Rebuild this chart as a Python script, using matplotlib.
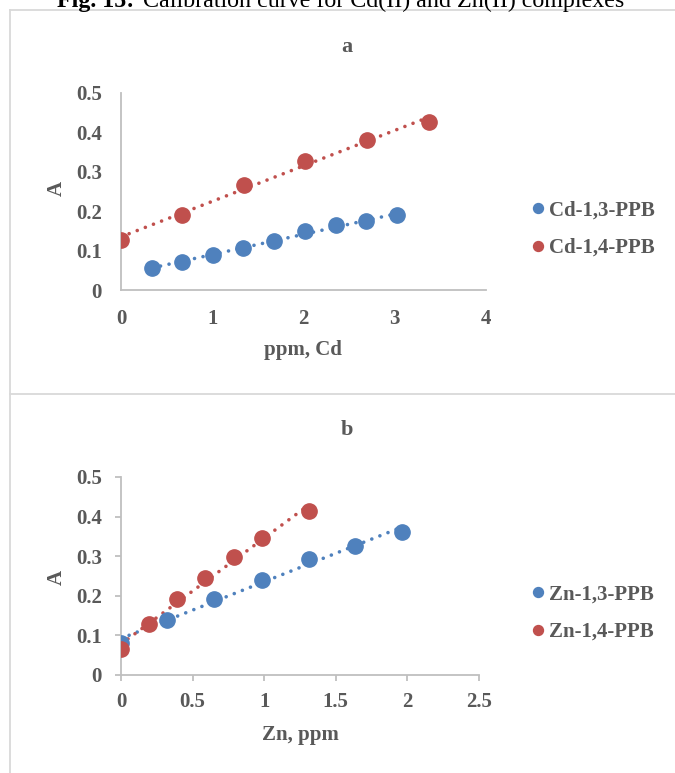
import matplotlib
matplotlib.use("Agg")
import matplotlib.pyplot as plt
import numpy as np
from matplotlib.lines import Line2D

# ---- data ----
cd13_x = [0.34, 0.67, 1.01, 1.34, 1.68, 2.02, 2.36, 2.69, 3.03]
cd13_y = [0.056, 0.070, 0.090, 0.107, 0.125, 0.149, 0.164, 0.174, 0.190]
cd14_x = [0.0, 0.67, 1.35, 2.02, 2.70, 3.37]
cd14_y = [0.128, 0.190, 0.267, 0.328, 0.380, 0.427]

zn13_x = [0.0, 0.32, 0.65, 0.985, 1.31, 1.635, 1.96]
zn13_y = [0.080, 0.139, 0.191, 0.241, 0.292, 0.326, 0.360]
zn14_x = [0.0, 0.196, 0.39, 0.587, 0.787, 0.985, 1.31]
zn14_y = [0.065, 0.128, 0.191, 0.244, 0.297, 0.347, 0.414]

top_xticks = [0, 1, 2, 3, 4]
top_xlabels = ["0", "1", "2", "3", "4"]
bot_xticks = [0, 0.5, 1, 1.5, 2, 2.5]
bot_xlabels = ["0", "0.5", "1", "1.5", "2", "2.5"]
yticks = [0, 0.1, 0.2, 0.3, 0.4, 0.5]
ylabels = ["0", "0.1", "0.2", "0.3", "0.4", "0.5"]

BLUE = "#4F81BD"
RED = "#C0504D"
GRAY = "#595959"
AXC = "#BFBFBF"
FS = 15

W, H = 675, 773
plt.rcParams["font.family"] = ["Liberation Serif", "DejaVu Serif"]
fig = plt.figure(figsize=(W / 100, H / 100), dpi=100)


def fx(px):
    return px / W


def fy(py):
    return 1 - py / H


# panel borders
for (x0, y0, x1, y1) in [(10, 10, 675, 10), (10, 10, 10, 773), (10, 394, 675, 394)]:
    fig.add_artist(Line2D([fx(x0), fx(x1)], [fy(y0), fy(y1)], color="#D9D9D9", lw=1.3))

# figure caption (cut off at top, as in the reference)
fig.text(fx(134), fy(7), "Fig. 15:", fontsize=17.3, fontweight="bold", color="black",
         ha="right", va="baseline")
fig.text(fx(143), fy(7), "Calibration curve for Cd(II) and Zn(II) complexes", fontsize=17.3,
         color="black", ha="left", va="baseline")


def make_panel(rect, xt, xl, xmax, series, ticks, title, title_y, xlabel, xlabel_pos,
               a_pos, leg_y, xtot):
    ax = fig.add_axes(rect)
    for (x, y, c, lab) in series:
        x = np.array(x)
        y = np.array(y)
        m, b = np.polyfit(x, y, 1)
        xx = np.array([x.min(), x.max()])
        ax.plot(xx, m * xx + b, color=c, lw=2.6, linestyle=(0, (0.01, 2.4)),
                dash_capstyle="round", zorder=2)
        ax.plot(x, y, "o", color=c, ms=11, mec=c, zorder=3, label=lab)
    ax.set_xlim(0, xmax)
    ax.set_ylim(0, 0.5)
    ax.set_xticks(xt)
    ax.set_xticklabels(xl)
    ax.set_yticks(yticks)
    ax.set_yticklabels(ylabels)
    for s in ["top", "right"]:
        ax.spines[s].set_visible(False)
    for s in ["left", "bottom"]:
        ax.spines[s].set_color(AXC)
        ax.spines[s].set_linewidth(1.3)
    tl = 4.5 if ticks else 0
    ax.tick_params(axis="both", length=tl, width=1.3, color=AXC, labelsize=FS,
                   labelcolor=GRAY)
    ax.tick_params(axis="y", pad=13.7 - tl)
    ax.tick_params(axis="x", pad=xtot - tl)
    for lab in ax.get_xticklabels() + ax.get_yticklabels():
        lab.set_fontweight("bold")
    ax.patch.set_alpha(0)
    fig.text(fx(347), fy(title_y), title, fontsize=16, fontweight="bold", color=GRAY,
             ha="center", va="center")
    fig.text(fx(xlabel_pos[0]), fy(xlabel_pos[1]), xlabel, fontsize=FS, fontweight="bold",
             color=GRAY, ha="center", va="center")
    fig.text(fx(a_pos[0]), fy(a_pos[1]), "A", fontsize=FS, fontweight="bold",
             color=GRAY, ha="center", va="center", rotation=90)
    leg = ax.legend(loc="center left", bbox_to_anchor=(fx(509), fy(leg_y)),
                    bbox_transform=fig.transFigure, frameon=False, handletextpad=0.0,
                    handlelength=1.0, markerscale=0.65, labelspacing=0.85,
                    prop={"weight": "bold", "size": FS})
    for t in leg.get_texts():
        t.set_color(GRAY)
    return ax


make_panel([fx(121), fy(290), fx(486) - fx(121), fy(93) - fy(290)],
           top_xticks, top_xlabels, 4,
           [(cd13_x, cd13_y, BLUE, "Cd-1,3-PPB"), (cd14_x, cd14_y, RED, "Cd-1,4-PPB")],
           False, "a", 47, "ppm, Cd", (303, 350), (57, 188), 229, 14)

make_panel([fx(121), fy(675), fx(479) - fx(121), fy(477) - fy(675)],
           bot_xticks, bot_xlabels, 2.5,
           [(zn13_x, zn13_y, BLUE, "Zn-1,3-PPB"), (zn14_x, zn14_y, RED, "Zn-1,4-PPB")],
           True, "b", 430, "Zn, ppm", (300, 735), (57, 577), 613, 12)

fig.savefig("out.png", dpi=100)
